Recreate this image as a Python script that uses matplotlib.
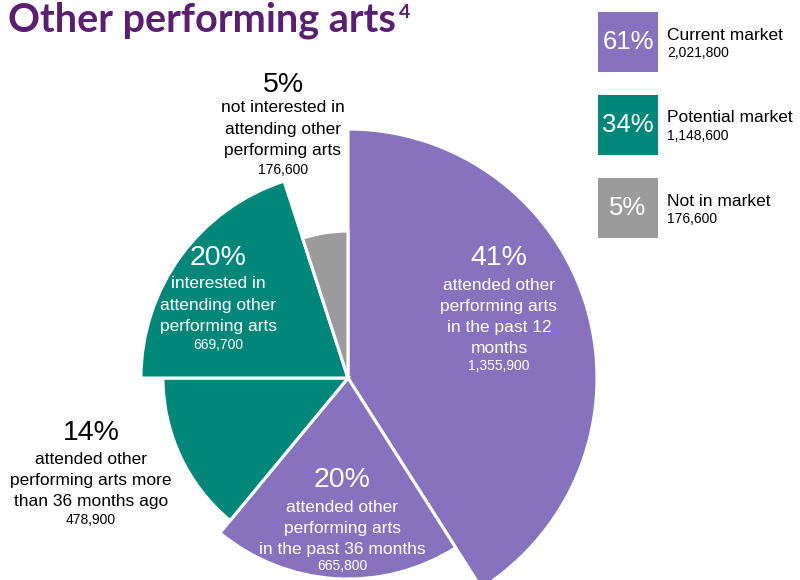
import matplotlib
matplotlib.use("Agg")
import matplotlib.pyplot as plt
from matplotlib.patches import Wedge, Rectangle

# ---- data -------------------------------------------------------------
title = "Other performing arts"
title_note = "4"

segment_shares = [41, 20, 14, 20, 5]
segment_counts = [1355900, 665800, 478900, 669700, 176600]
segment_texts = [
    "attended other\nperforming arts\nin the past 12\nmonths",
    "attended other\nperforming arts\nin the past 36 months",
    "attended other\nperforming arts more\nthan 36 months ago",
    "interested in\nattending other\nperforming arts",
    "not interested in\nattending other\nperforming arts",
]

market_labels = ["Current market", "Potential market", "Not in market"]
market_shares = [61, 34, 5]
market_counts = [2021800, 1148600, 176600]

# ---- style ------------------------------------------------------------
PURPLE = "#8773bd"
TEAL = "#00877a"
GRAY = "#9b9b9b"
TITLE_COLOR = "#5a1f6e"
segment_colors = [PURPLE, PURPLE, TEAL, TEAL, GRAY]
market_colors = [PURPLE, TEAL, GRAY]
wedge_radius = [249, 201, 185, 207, 147]
center = (348, 378)

# label placement: (x, y of percent, y of first text line, y of count, text colour)
label_layout = [
    (499, 258, 285, 366, "white"),
    (342, 480, 507, 566, "white"),
    (91, 433, 459, 520, "black"),
    (218, 258, 284, 345, "white"),
    (283, 85, 108, 170, "black"),
]
LINE = 21.3

plt.rcParams["font.family"] = ["Liberation Sans", "DejaVu Sans"]

fig = plt.figure(figsize=(8, 5.8), dpi=100)
ax = fig.add_axes([0, 0, 1, 1])
ax.set_xlim(0, 800)
ax.set_ylim(580, 0)
ax.axis("off")

# wedges run clockwise from 12 o'clock (y axis is inverted)
start = -90.0
for share, r, col in zip(segment_shares, wedge_radius, segment_colors):
    end = start + share * 3.6
    ax.add_patch(Wedge(center, r, start, end, facecolor=col,
                       edgecolor="white", linewidth=2.2))
    start = end

for share, desc, count, (x, yp, yl, yc, tc) in zip(
        segment_shares, segment_texts, segment_counts, label_layout):
    ax.text(x, yp, f"{share}%", ha="center", va="center",
            fontsize=20.5, color=tc)
    for i, line in enumerate(desc.split("\n")):
        ax.text(x, yl + i * LINE, line, ha="center", va="center",
                fontsize=12.5, color=tc)
    ax.text(x, yc, f"{count:,}", ha="center", va="center",
            fontsize=10, color=tc)

# title with footnote marker
t = ax.text(8, 20, title, ha="left", va="center", fontsize=28.5,
            fontweight="bold", color=TITLE_COLOR, family="Lato")
fig.canvas.draw()
bb = t.get_window_extent(renderer=fig.canvas.get_renderer())
xr = ax.transData.inverted().transform((bb.x1, bb.y1))[0]
ax.text(xr + 3, 13, title_note, ha="left", va="center", fontsize=14,
        fontweight="bold", color=TITLE_COLOR, family="Lato")

# market legend
box_tops = [12, 95, 178]
for lab, share, cnt, col, top in zip(market_labels, market_shares,
                                     market_counts, market_colors, box_tops):
    ax.add_patch(Rectangle((598, top), 60, 60, facecolor=col,
                           edgecolor="none"))
    ax.text(628, top + 30, f"{share}%", ha="center", va="center",
            fontsize=18.5, color="white")
    ax.text(667, top + 23, lab, ha="left", va="center", fontsize=12.5,
            color="black")
    ax.text(667, top + 41, f"{cnt:,}", ha="left", va="center",
            fontsize=10, color="black")

fig.savefig("out.png", dpi=100)
